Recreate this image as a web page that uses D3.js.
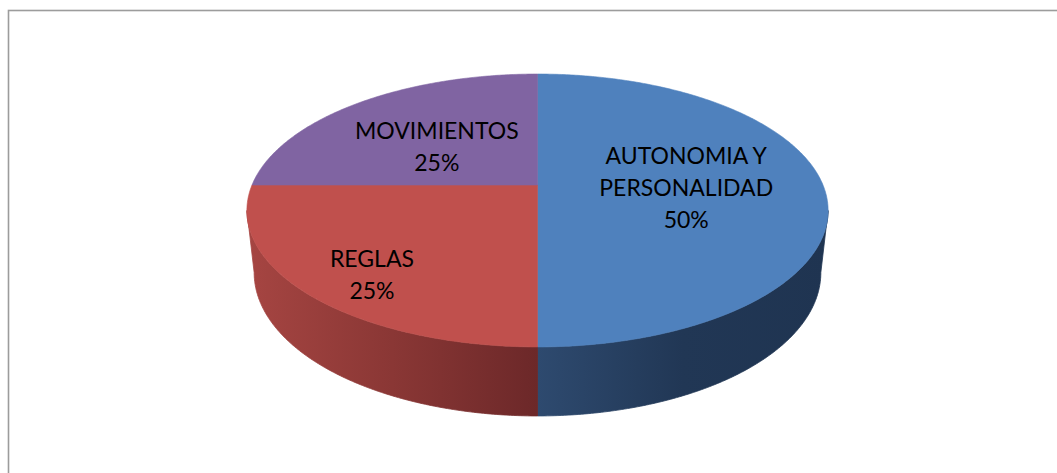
<!DOCTYPE html>
<html>
<head>
<meta charset="utf-8">
<script src="https://cdn.jsdelivr.net/npm/d3@7"></script>
<style>
  html, body { margin: 0; padding: 0; background: #ffffff; overflow: hidden; }
  #chart { width: 1057px; height: 473px; }
</style>
</head>
<body>
<div id="chart"></div>
<script>
// Slice data, in drawing order (clockwise from 12 o'clock)
const categoryLines = [["AUTONOMIA Y", "PERSONALIDAD"], ["REGLAS"], ["MOVIMIENTOS"]];
const percentValues = [50, 25, 25];
const topColors = ["#4f81bd", "#c0504d", "#8064a2"];
const sideColors = [["#2e4a6f", "#213755", "#1f3451"], ["#a64542", "#8a3735", "#6c2829"], ["#5d4879", "#4b3a63", "#3e3052"]];

const width = 1057;
const height = 473;

// perspective disc: hub position, half width, depth factor and tilt
const hub = { x: 537.5, y: 185 };
const radiusX = 285.5;
const radiusY = 131.7;
const tilt = 0.1868;
const thickness = { base: 60.4, grow: 8.6, shrink: 0.975 };

// label placement: radius on the disc plus a small pixel nudge
const labelLayout = [
  { r: 0.5, dx: 6, dy: 3 },
  { r: 0.75, dx: 2.5, dy: 12.5 },
  { r: 0.5, dx: -6, dy: 6 }
];
const lineHeight = 32;
const capHeight = 16;

function projTop(u, v) {
  const w = 1 - tilt * v;
  return [hub.x + radiusX * u / w, hub.y + radiusY * v / w];
}

function projBottom(u, v) {
  const [x, y] = projTop(u, v);
  return [hub.x + thickness.shrink * (x - hub.x), y + thickness.base + thickness.grow * v];
}

// d3 angle convention: 0 at top, clockwise
const angleToDisc = (a, r = 1) => [r * Math.sin(a), -r * Math.cos(a)];

function arcSamples(a0, a1, proj) {
  const n = Math.max(2, Math.ceil(Math.abs(a1 - a0) / 0.01));
  return d3.range(n + 1).map((i) => {
    const a = a0 + (a1 - a0) * i / n;
    const [u, v] = angleToDisc(a);
    return proj(u, v);
  });
}

const svg = d3.select("#chart")
  .append("svg")
  .attr("width", width)
  .attr("height", height);

const defs = svg.append("defs");

// chart area frame (runs off the right and bottom edges)
svg.append("rect")
  .attr("x", 8.5)
  .attr("y", 10.5)
  .attr("width", width + 20)
  .attr("height", height + 20)
  .attr("fill", "#ffffff")
  .attr("stroke", "#9c9c9c")
  .attr("stroke-width", 1.6);

const pie = d3.pie().sort(null).value((d) => d);
const slices = pie(percentValues);

const line = d3.line().curve(d3.curveLinearClosed);

// visible front band of the cylinder, between the two silhouette points
const frontStart = Math.PI / 2 + Math.asin(tilt);
const frontEnd = 3 * Math.PI / 2 - Math.asin(tilt);

const sideGroup = svg.append("g").attr("class", "sides");

slices.forEach((s, i) => {
  const a0 = Math.max(s.startAngle, frontStart);
  const a1 = Math.min(s.endAngle, frontEnd);
  if (a1 <= a0) return;

  const topPts = arcSamples(a0, a1, projTop);
  const bottomPts = arcSamples(a0, a1, projBottom).reverse();

  const xs = topPts.concat(bottomPts).map((p) => p[0]);
  const grad = defs.append("linearGradient")
    .attr("id", `side-${i}`)
    .attr("gradientUnits", "userSpaceOnUse")
    .attr("x1", d3.min(xs)).attr("y1", 0)
    .attr("x2", d3.max(xs)).attr("y2", 0);

  const stops = sideColors[i];
  grad.selectAll("stop")
    .data(stops)
    .enter()
    .append("stop")
    .attr("offset", (d, k) => k / (stops.length - 1))
    .attr("stop-color", (d) => d);

  sideGroup.append("path")
    .attr("d", line(topPts.concat(bottomPts)))
    .attr("fill", `url(#side-${i})`)
    .attr("stroke", `url(#side-${i})`)
    .attr("stroke-width", 0.8);
});

const topGroup = svg.append("g").attr("class", "tops");

slices.forEach((s, i) => {
  const pts = [projTop(0, 0)].concat(arcSamples(s.startAngle, s.endAngle, projTop));
  topGroup.append("path")
    .attr("d", line(pts))
    .attr("fill", topColors[i])
    .attr("stroke", topColors[i])
    .attr("stroke-width", 0.6);
});

const fmtPct = (v) => `${Math.round(v)}%`;
const total = d3.sum(percentValues);

const labelGroup = svg.append("g")
  .attr("font-family", "Lato, 'Open Sans', sans-serif")
  .attr("font-size", 23)
  .attr("fill", "#000000")
  .attr("text-anchor", "middle");

slices.forEach((s, i) => {
  const mid = (s.startAngle + s.endAngle) / 2;
  const layout = labelLayout[i];
  const [u, v] = angleToDisc(mid, layout.r);
  const [cx, cy] = projTop(u, v);
  const lines = categoryLines[i].concat([fmtPct(s.data / total * 100)]);
  const blockHeight = (lines.length - 1) * lineHeight + capHeight;
  const firstBaseline = cy + layout.dy - blockHeight / 2 + capHeight;

  labelGroup.selectAll(null)
    .data(lines)
    .enter()
    .append("text")
    .attr("x", cx + layout.dx)
    .attr("y", (d, k) => firstBaseline + k * lineHeight)
    .text((d) => d);
});
</script>
</body>
</html>
